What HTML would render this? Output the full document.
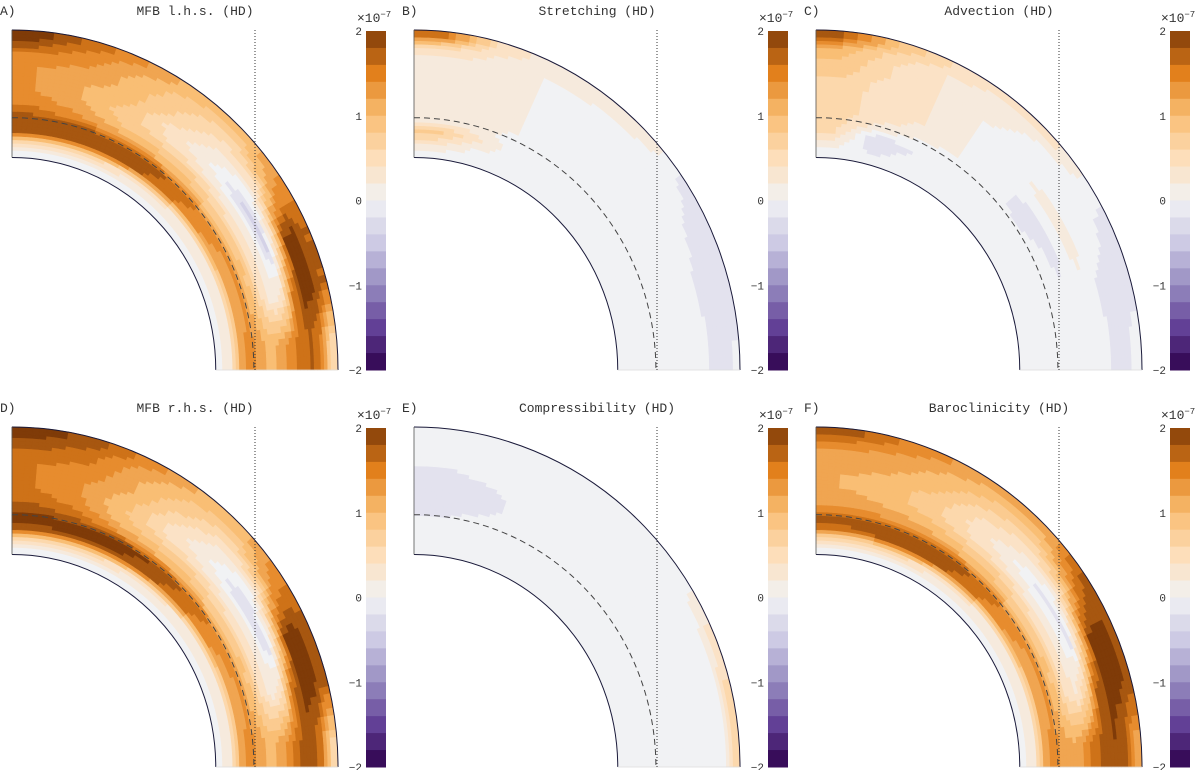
<!DOCTYPE html>
<html><head><meta charset="utf-8">
<style>
html,body{margin:0;padding:0;background:#fff;}
svg{display:block;font-family:"Liberation Mono",monospace;}
</style></head>
<body>
<svg id="fig" width="1200" height="770" viewBox="0 0 1200 770" xmlns="http://www.w3.org/2000/svg"></svg>
<script>
// ---- data: field values (units 1e-7), rows = colatitude bins 0-90deg (10deg each), cols = radial bins inner->outer (12)
const panelLetters = ["A)","B)","C)","D)","E)","F)"];
const panelTitles = ["MFB l.h.s. (HD)","Stretching (HD)","Advection (HD)","MFB r.h.s. (HD)","Compressibility (HD)","Baroclinicity (HD)"];
const fieldA = [
 [0,0.6,1.7,1.9, 1.6,1.4,1.3,1.3,1.3,1.4,1.7,2.0],
 [0,0.6,1.8,1.9, 1.4,1.2,1.1,1.1,1.2,1.3,1.4,1.6],
 [0,0.5,1.8,1.9, 1.2,0.9,0.8,0.9,1.0,1.0,1.1,1.3],
 [0,0.4,1.7,1.8, 1.1,0.8,0.5,0.4,0.6,0.7,0.8,1.0],
 [0,0.3,1.5,1.6, 1.0,0.7,0.3,0.1,0.2,0.4,0.6,0.9],
 [0,0.3,1.3,1.4, 0.8,0.5,0.1,-0.3,0.0,0.5,1.1,1.3],
 [0,0.3,1.2,1.3, 0.9,0.4,0.1,-0.4,0.6,1.9,2.0,1.7],
 [0,0.3,1.1,1.3, 0.9,0.5,0.1,0.4,1.5,2.0,2.0,1.7],
 [0,0.3,1.2,1.4, 1.2,1.0,1.2,1.4,1.6,1.7,1.4,0.6]];
const fieldB = [
 [0,0.4,0.8,0.3, 0.2,0.2,0.2,0.2,0.2,0.3,0.6,1.6],
 [0,0.1,0.4,0.2, 0.2,0.2,0.2,0.2,0.2,0.2,0.3,0.5],
 [0,0,0,0, 0.1,0.1,0.1,0.1,0.1,0.1,0.1,0.2],
 [0,0,0,0, 0,0,0,0,0,0,0.1,0.2],
 [0,0,0,0, 0,0,0,0,0,0,0,0.3],
 [0,0,0,0, 0,0,0,0,0,0,0,-0.1],
 [0,0,0,0, 0,0,0,0,0,-0.1,-0.2,-0.3],
 [0,0,0,0, 0,0,0,0,-0.1,-0.2,-0.2,-0.3],
 [0,0,0,0, 0,0,0,0,0,-0.2,-0.2,-0.1]];
const fieldC = [
 [0,0.2,0.5,0.6, 0.6,0.6,0.6,0.7,0.8,0.9,1.1,1.7],
 [0,-0.2,-0.3,0.2, 0.4,0.4,0.4,0.4,0.5,0.5,0.6,0.9],
 [0,0,-0.1,0, 0.2,0.3,0.3,0.3,0.3,0.3,0.3,0.5],
 [0,0,0,0, 0.1,0.1,0.1,0.1,0.1,0.2,0.2,0.3],
 [0,0,0,0, 0,0,0,0,0,0,0.1,0.4],
 [0,0,0,0, -0.2,-0.2,0,0.2,0,0,0,0.1],
 [0,0,0,0.1, 0,-0.2,0,0.2,0,0,-0.1,-0.2],
 [0,0,0,0, 0,0,0,0,-0.1,-0.2,-0.2,-0.2],
 [0,0,0,0, 0,0,0,0,0,-0.2,-0.2,0]];
const fieldD = [
 [0,0.6,1.8,2.0, 1.8,1.6,1.5,1.5,1.5,1.6,1.8,2.0],
 [0,0.6,1.9,2.0, 1.6,1.4,1.3,1.3,1.4,1.5,1.6,1.8],
 [0,0.5,1.9,2.0, 1.3,1.0,0.9,1.0,1.1,1.1,1.2,1.4],
 [0,0.4,1.8,1.9, 1.1,0.8,0.5,0.4,0.6,0.8,0.9,1.1],
 [0,0.3,1.6,1.7, 1.0,0.7,0.3,0.1,0.2,0.4,0.7,1.0],
 [0,0.3,1.4,1.5, 0.8,0.5,0.1,-0.3,0.0,0.6,1.2,1.4],
 [0,0.3,1.2,1.4, 0.9,0.4,0.1,-0.3,0.7,1.9,2.0,1.8],
 [0,0.3,1.1,1.3, 0.9,0.5,0.2,0.5,1.6,2.0,2.0,1.8],
 [0,0.3,1.2,1.4, 1.2,1.0,1.2,1.4,1.7,1.8,1.5,0.7]];
const fieldE = [
 [0,0,0,-0.1, -0.2,-0.2,-0.2,-0.2,-0.1,0,0,0],
 [0,0,0,0, -0.1,-0.2,-0.2,-0.1,0,0,0,0],
 [0,0,0,0, 0,0,0,0,0,0,0,0],
 [0,0,0,0, 0,0,0,0,0,0,0,0],
 [0,0,0,0, 0,0,0,0,0,0,0,0],
 [0,0,0,0, 0,0,0,0,0,0,0,0],
 [0,0,0,0, 0,0,0,0,0,0,0,0.3],
 [0,0,0,0, 0,0,0,0,0,0,0,0.5],
 [0,0,0,0, 0,0,0,0,0,0,0,0.5]];
const fieldF = [
 [0,0.5,1.6,1.8, 1.3,1.2,1.1,1.1,1.2,1.2,1.4,1.8],
 [0,0.5,1.7,1.9, 1.3,1.1,1.0,1.0,1.1,1.2,1.3,1.5],
 [0,0.5,1.8,1.9, 1.2,1.0,0.8,0.8,0.9,1.0,1.1,1.3],
 [0,0.4,1.7,1.8, 1.1,0.8,0.5,0.4,0.5,0.7,0.9,1.1],
 [0,0.3,1.5,1.6, 1.0,0.7,0.3,0.1,0.3,0.5,0.8,1.1],
 [0,0.3,1.3,1.4, 0.8,0.5,0.1,-0.2,0.2,0.8,1.4,1.7],
 [0,0.3,1.2,1.3, 0.9,0.4,0.1,-0.2,0.8,1.9,2.0,1.9],
 [0,0.3,1.1,1.3, 0.9,0.5,0.3,0.7,1.7,2.0,2.0,1.9],
 [0,0.3,1.2,1.4, 1.2,1.1,1.3,1.6,1.8,1.9,1.7,1.2]];
const fields = [fieldA,fieldB,fieldC,fieldD,fieldE,fieldF];
const cbTicks = [2,1,0,-1,-2];
const vMin = -2, vMax = 2;

const NS="http://www.w3.org/2000/svg";
const svg=document.getElementById('fig');
function mk(tag,attrs,parent){const e=document.createElementNS(NS,tag);for(const k in attrs)e.setAttribute(k,attrs[k]);(parent||svg).appendChild(e);return e;}

const stops=[[-2,[45,0,75]],[-1.5,[98,64,150]],[-1,[150,140,192]],[-0.5,[205,202,228]],[0,[241,242,244]],[0.5,[253,222,186]],[1,[249,190,116]],[1.5,[226,128,28]],[2,[127,59,8]]];
function cmap(v){
  v=Math.max(vMin,Math.min(vMax,v));
  for(let i=0;i<stops.length-1;i++){const a=stops[i],b=stops[i+1];
    if(v<=b[0]){const t=(v-a[0])/(b[0]-a[0]);const c=a[1].map((x,j)=>Math.round(x+(b[1][j]-x)*t));return `rgb(${c[0]},${c[1]},${c[2]})`;}}
  return 'rgb(127,59,8)';
}
function quant(v){const s=0.2;return Math.round(v/s)*s;}

const RX=326, RY=340, RIN=0.625, RDASH=0.742;
function P(ox,oy,r,th){return [ox+r*RX*Math.sin(th), oy-r*RY*Math.cos(th)];}
function sample(F,rf,tf){
  const nr=F[0].length,nt=F.length;
  let x=rf*nr-0.5,y=tf*nt-0.5;
  x=Math.max(0,Math.min(nr-1,x));y=Math.max(0,Math.min(nt-1,y));
  const x0=Math.floor(x),y0=Math.floor(y),x1=Math.min(nr-1,x0+1),y1=Math.min(nt-1,y0+1);
  const fx=x-x0,fy=y-y0;
  return F[y0][x0]*(1-fx)*(1-fy)+F[y0][x1]*fx*(1-fy)+F[y1][x0]*(1-fx)*fy+F[y1][x1]*fx*fy;
}

for(let p=0;p<6;p++){
  const col=p%3,row=Math.floor(p/3);
  const ox=12+col*402, oy=370+row*397;
  const g=mk('g',{});
  
  
  const lt=mk('text',{x:0+col*402,y:15+row*397,'font-size':13,fill:'#333'},g);
  lt.textContent=panelLetters[p];
  
  
  const tt=mk('text',{x:195+col*402,y:15+row*397,'font-size':13,fill:'#333','text-anchor':'middle'},g);
  tt.textContent=panelTitles[p];
  
  
  const F=fields[p];
  const NR=36,NT=72;
  const fg=mk('g',{},g);
  
  
  for(let i=0;i<NT;i++){
    const t0=i/NT*Math.PI/2,t1=(i+1)/NT*Math.PI/2;
    for(let j=0;j<NR;j++){
      const r0=RIN+(1-RIN)*j/NR, r1=RIN+(1-RIN)*(j+1)/NR;
      const v=quant(sample(F,(j+0.5)/NR,(i+0.5)/NT));
      const a=P(ox,oy,r0,t0),b=P(ox,oy,r1,t0),c=P(ox,oy,r1,t1),d=P(ox,oy,r0,t1);
      const c2=cmap(v);
      const cell=mk('path',{d:`M${a}L${b}L${c}L${d}Z`,fill:c2,stroke:c2,'stroke-width':0.6},fg);
      
      
    }
  }
  const o0=P(ox,oy,1,0),o1=P(ox,oy,1,Math.PI/2),i0=P(ox,oy,RIN,0),i1=P(ox,oy,RIN,Math.PI/2);
  const ob=mk('path',{d:`M${o0}A${RX} ${RY} 0 0 1 ${o1}`,fill:'none',stroke:'#1a1a3a','stroke-width':1},g);
  
  
  const ib=mk('path',{d:`M${i0}A${RX*RIN} ${RY*RIN} 0 0 1 ${i1}`,fill:'none',stroke:'#1a1a3a','stroke-width':1},g);
  
  
  const pl=mk('line',{x1:o0[0],y1:o0[1],x2:i0[0],y2:i0[1],stroke:'#555','stroke-width':0.8},g);
  
  
  const eq=mk('line',{x1:i1[0],y1:i1[1],x2:o1[0],y2:o1[1],stroke:'#ddd','stroke-width':0.8},g);
  
  
  const d0=P(ox,oy,RDASH,0),d1=P(ox,oy,RDASH,Math.PI/2);
  const ds=mk('path',{d:`M${d0}A${RX*RDASH} ${RY*RDASH} 0 0 1 ${d1}`,fill:'none',stroke:'#444','stroke-width':1,'stroke-dasharray':'6 4'},g);
  
  
  const dl=mk('line',{x1:ox+243,y1:oy-340,x2:ox+243,y2:oy,stroke:'#333','stroke-width':1,'stroke-dasharray':'1 2'},g);
  
  
  const cx=366+col*402, cy0=31+row*397, cy1=370+row*397, cw=20;
  const cb=mk('g',{},g);
  
  
  const nb=20, bh=(cy1-cy0)/nb;
  for(let k=0;k<nb;k++){
    const v=vMax-(k+0.5)*(vMax-vMin)/nb;
    const r=mk('rect',{x:cx,y:cy0+k*bh,width:cw,height:bh+0.5,fill:cmap(v)},cb);
    
    
  }
  cbTicks.forEach(t=>{
    const y=cy0+(vMax-t)/(vMax-vMin)*(cy1-cy0);
    const tx=mk('text',{x:cx-4,y:y+4,'font-size':11,fill:'#333','text-anchor':'end'},cb);
    tx.textContent=t<0?'\u2212'+(-t):String(t);
    
    
  });
  const ex=mk('text',{x:cx-9,y:cy0-9,'font-size':13,fill:'#333'},cb);
  ex.innerHTML='\u00d710<tspan dy="-5" font-size="9">\u22127</tspan>';
  
  
}
</script>
</body></html>
